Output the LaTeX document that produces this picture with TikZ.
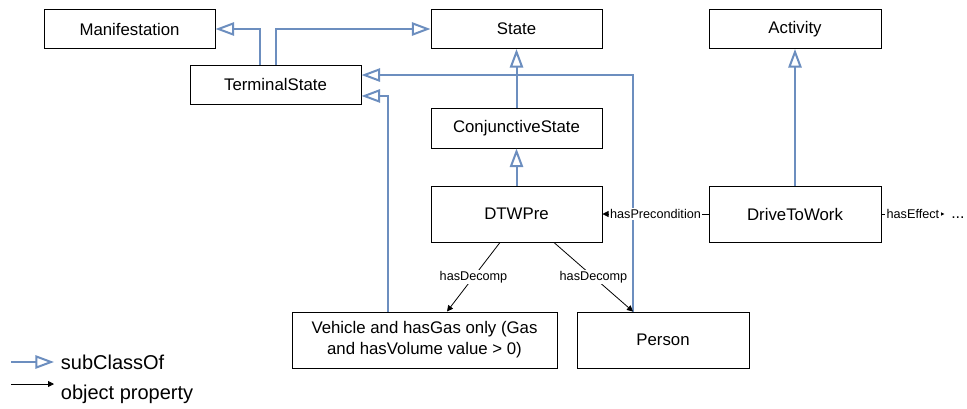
\documentclass[tikz,border=0pt]{standalone}
\usepackage{fontspec}
\setmainfont{Liberation Sans}
\usetikzlibrary{arrows.meta}
\definecolor{subblue}{RGB}{108,142,191}
\tikzset{
  box/.style={draw=black, line width=0.75pt, fill=white, inner sep=0pt, align=center,
    font=\fontsize{12.6}{15.75}\selectfont},
  sub/.style={draw=subblue, line width=1.5pt, -{Triangle[open, length=14pt, width=10pt, line width=1.5pt]}},
  prop/.style={draw=black, line width=0.6pt, -{Triangle[length=4.5pt, width=4.5pt]}},
  lbl/.style={fill=white, inner sep=1pt, font=\fontsize{9.5}{11}\selectfont},
  leg/.style={anchor=west, inner ysep=0pt, inner xsep=5pt, font=\fontsize{15}{18}\selectfont},
}
\begin{document}
\begin{tikzpicture}[x=0.75pt, y=-0.75pt]
\useasboundingbox (0,0) rectangle (967,408);
% boxes
\node[box, minimum width=128.25pt, minimum height=29.25pt] (man) at (129.5,29) {Manifestation};
\node[box, minimum width=128.25pt, minimum height=29.25pt] (term) at (275.5,84.5) {TerminalState};
\node[box, minimum width=128.25pt, minimum height=29.25pt] (state) at (516.5,29) {State};
\node[box, minimum width=129pt, minimum height=29.25pt] (act) at (795,29) {Activity};
\node[box, minimum width=128.25pt, minimum height=30pt] (conj) at (516.5,128) {ConjunctiveState};
\node[box, minimum width=128.25pt, minimum height=42pt] (dtw) at (516.5,214) {DTWPre};
\node[box, minimum width=129pt, minimum height=42pt] (drive) at (795,214) {DriveToWork};
\node[box, minimum width=198.75pt, minimum height=42pt] (veh) at (424.5,340) {Vehicle and hasGas only (Gas\\and hasVolume value > 0)};
\node[box, minimum width=129pt, minimum height=42pt] (person) at (663,340) {Person};
% subClassOf connectors
\draw[sub] ([xshift=-11.6pt]term.north) |- (man.east);
\draw[sub] (term.north) |- (state.west);
\draw[sub] ([xshift=-22.5pt]person.north) |- ([yshift=7.1pt]term.east);
\draw[sub] ([xshift=-27.4pt]veh.north) |- ([yshift=-8.6pt]term.east);
\draw[sub] (conj.north) -- (state.south);
\draw[sub] (dtw.north) -- (conj.south);
\draw[sub] (drive.north) -- (act.south);
% object properties
\node[inner sep=0pt, anchor=west, text height=6pt, text depth=0pt, font=\fontsize{12}{14}\selectfont] (dots) at (951,214) {...};
\draw[prop] (drive.west) -- node[lbl] {hasPrecondition} (dtw.east);
\draw[prop] (drive.east) -- node[lbl] {hasEffect} ([xshift=-5pt]dots.west);
\draw[prop] ([xshift=-12.4pt]dtw.south) -- node[lbl] {hasDecomp} ([xshift=16.9pt]veh.north);
\draw[prop] ([xshift=28.1pt]dtw.south) -- node[lbl] {hasDecomp} ([xshift=-22.5pt]person.north);
% legend
\coordinate (l1a) at (11,362);
\node[leg] (l1t) at (54,362) {subClassOf};
\draw[sub] (l1a) -- (l1t.west);
\coordinate (l2a) at (11,384);
\coordinate (l2b) at (54,384);
\node[leg] (l2t) at (54,394) {object property};
\draw[prop] (l2a) -- (l2b);
\end{tikzpicture}
\end{document}
